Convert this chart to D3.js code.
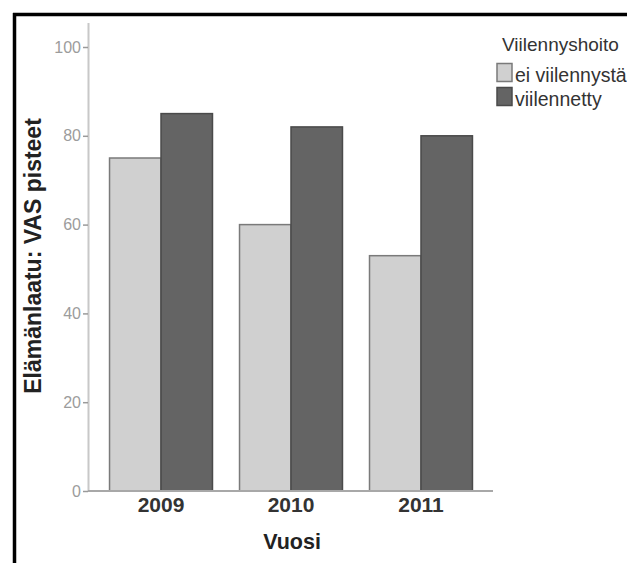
<!DOCTYPE html>
<html>
<head>
<meta charset="utf-8">
<script src="https://cdn.jsdelivr.net/npm/d3@7"></script>
<style>
  html, body { margin: 0; padding: 0; background: #fff; }
  svg { display: block; }
  text { font-family: "Liberation Sans", Arial, sans-serif; }
</style>
</head>
<body>
<svg id="chart" width="627" height="563"></svg>
<script>
const years = ["2009", "2010", "2011"];
const seriesNames = ["ei viilennystä", "viilennetty"];
const eiViilennysta = [75, 60, 53];
const viilennetty = [85, 82, 80];
const yTicks = [0, 20, 40, 60, 80, 100];
const legendTitle = "Viilennyshoito";
const xTitle = "Vuosi";
const yTitle = "Elämänlaatu: VAS pisteet";

const fills = ["#d0d0d0", "#646464"];
const strokes = ["#7a7a7a", "#4a4a4a"];

const svg = d3.select("#chart");

// frame border
svg.append("line").attr("x1", 13).attr("x2", 627).attr("y1", 14.5).attr("y2", 14.5)
  .attr("stroke", "#000").attr("stroke-width", 3.5);
svg.append("line").attr("x1", 14.5).attr("x2", 14.5).attr("y1", 13).attr("y2", 563)
  .attr("stroke", "#000").attr("stroke-width", 3.5);

const x0 = d3.scaleBand().domain(years).range([89, 493]).paddingInner(0.208).paddingOuter(0.158);
const x1 = d3.scaleBand().domain(seriesNames).range([0, x0.bandwidth()]);
const y = d3.scaleLinear().domain([0, 100]).range([491, 47]);

// y axis line
svg.append("line").attr("x1", 88.5).attr("x2", 88.5).attr("y1", 23).attr("y2", y(0))
  .attr("stroke", "#c8c8c8").attr("stroke-width", 2);

const yAxis = d3.axisLeft(y).tickValues(yTicks).tickSize(5).tickPadding(2);
const gy = svg.append("g").attr("transform", "translate(88,0)").call(yAxis);
gy.select(".domain").remove();
gy.selectAll(".tick line").attr("stroke", "#9a9a9a").attr("stroke-width", 1.5);
gy.selectAll(".tick text").attr("fill", "#9c9c9c").style("font-size", "16px")
  .style("font-family", "'Liberation Sans Narrow', 'Liberation Sans', Arial, sans-serif");

// bars
const data = years.map((yr, i) => ({ year: yr, values: [eiViilennysta[i], viilennetty[i]] }));
const groups = svg.append("g").selectAll("g").data(data).join("g")
  .attr("transform", d => `translate(${x0(d.year)},0)`);
groups.selectAll("rect").data(d => d.values.map((v, j) => ({ v, j })))
  .join("rect")
  .attr("x", d => x1(seriesNames[d.j]))
  .attr("width", x1.bandwidth())
  .attr("y", d => y(d.v))
  .attr("height", d => y(0) - y(d.v))
  .attr("fill", d => fills[d.j])
  .attr("stroke", d => strokes[d.j])
  .attr("stroke-width", 1.5);

// x axis line
svg.append("line").attr("x1", 88).attr("x2", 493).attr("y1", y(0)).attr("y2", y(0))
  .attr("stroke", "#a8a8a8").attr("stroke-width", 2);

const xAxis = d3.axisBottom(x0).tickSize(0).tickPadding(0);
const gx = svg.append("g").attr("transform", `translate(0,${y(0)})`).call(xAxis);
gx.select(".domain").remove();
gx.selectAll(".tick text").attr("fill", "#333").attr("dy", null).attr("y", 21)
  .style("font-size", "21px").style("font-weight", "bold");

// axis titles
svg.append("text").attr("x", 292).attr("y", 549).attr("text-anchor", "middle")
  .attr("fill", "#222").style("font-size", "21.5px").style("font-weight", "bold").text(xTitle);
svg.append("text").attr("transform", "translate(41,256) rotate(-90)").attr("text-anchor", "middle")
  .attr("fill", "#222").style("font-size", "23px").style("font-weight", "bold").text(yTitle);

// legend
const lg = svg.append("g");
lg.append("text").attr("x", 502).attr("y", 51).attr("fill", "#333").style("font-size", "19px").text(legendTitle);
const items = lg.selectAll("g").data(seriesNames).join("g")
  .attr("transform", (d, i) => `translate(0,${i * 24})`);
items.append("rect").attr("x", 497).attr("y", 63.5).attr("width", 15).attr("height", 18)
  .attr("fill", (d, i) => fills[i]).attr("stroke", (d, i) => strokes[i]).attr("stroke-width", 1.5);
items.append("text").attr("x", 515).attr("y", 82).attr("fill", "#333").style("font-size", "19.5px").text(d => d);
</script>
</body>
</html>
